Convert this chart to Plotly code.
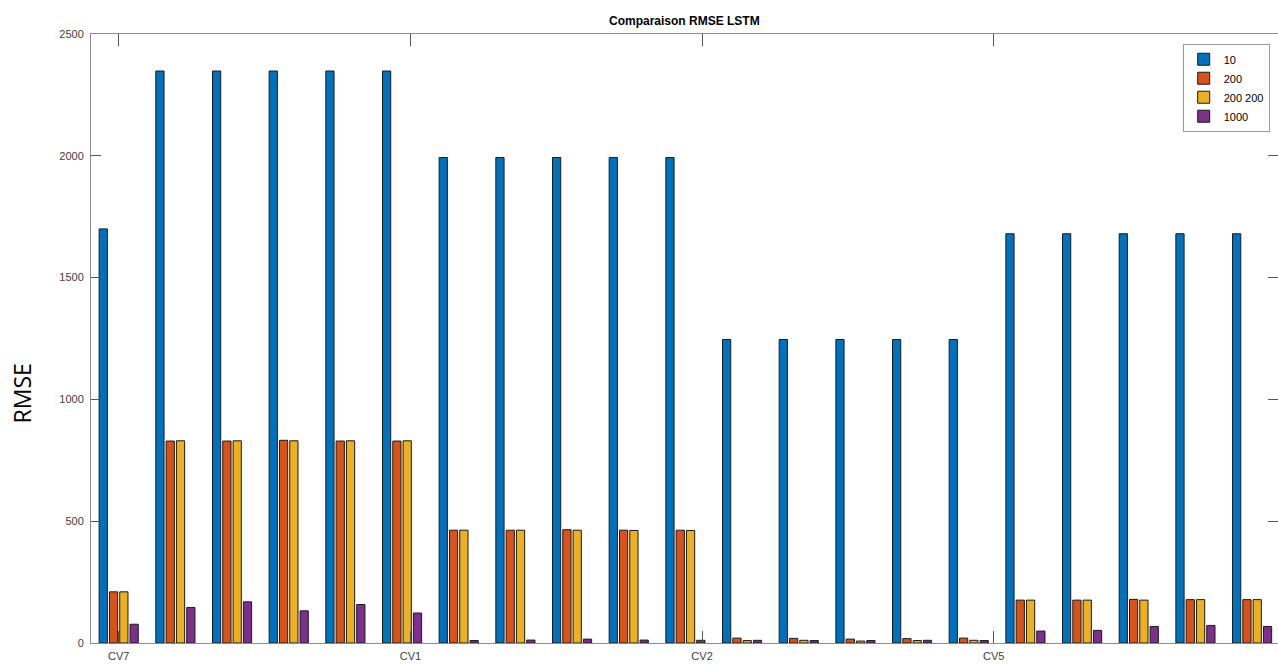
import plotly.graph_objects as go

# Grouped RMSE results, one bar per configuration in each of the 21 runs
runs = list(range(1, 22))
rmse_10 = [1700, 2348, 2348, 2348, 2348, 2348,
           1993, 1993, 1993, 1993, 1993,
           1246, 1246, 1246, 1246, 1246,
           1680, 1680, 1680, 1680, 1680]
rmse_200 = [210, 829, 829, 832, 829, 829,
            463, 463, 465, 463, 463,
            20, 19, 16, 18, 20,
            176, 176, 179, 178, 178]
rmse_200_200 = [210, 830, 830, 830, 830, 830,
                463, 463, 463, 462, 462,
                10, 11, 8, 10, 11,
                176, 176, 176, 178, 178]
rmse_1000 = [77, 146, 169, 132, 158, 123,
             10, 12, 16, 12, 11,
             11, 10, 10, 11, 10,
             49, 52, 68, 72, 68]

series_names = ["10", "200", "200 200", "1000"]
series_values = [rmse_10, rmse_200, rmse_200_200, rmse_1000]
series_colors = ["#0072BD", "#D95319", "#EDB120", "#7E2F8E"]

# Fold labels on the x axis
cv_tick_pos = [1, 6.147, 11.294, 16.441]
cv_tick_labels = ["CV7", "CV1", "CV2", "CV5"]

y_ticks = [0, 500, 1000, 1500, 2000, 2500]

FONT = "Liberation Sans, Arial, sans-serif"
AXIS_GRAY = "#8c8c8c"

fig = go.Figure()
for name, vals, color in zip(series_names, series_values, series_colors):
    fig.add_trace(go.Bar(
        x=runs, y=vals, name=name,
        marker=dict(color=color, line=dict(color="#1a1a1a", width=1)),
    ))

fig.update_layout(
    width=1278, height=664,
    margin=dict(l=91, r=0, t=34, b=21),
    paper_bgcolor="white", plot_bgcolor="white",
    barmode="group", bargap=0.273, bargroupgap=0.2,
    font=dict(family=FONT, size=11, color="#404040"),
    title=dict(text="<b>Comparaison RMSE LSTM</b>", x=0.5355, xanchor="center",
               y=0.968, yanchor="middle",
               font=dict(family=FONT, size=12, color="#000000")),
    showlegend=True,
    legend=dict(x=0.993, xanchor="right", y=0.984, yanchor="top",
                bgcolor="white", bordercolor="#999999", borderwidth=1,
                font=dict(family=FONT, size=11, color="#000000"),
                tracegroupgap=0, itemwidth=30),
    annotations=[dict(
        text="RMSE", textangle=-90,
        xref="paper", yref="paper", x=-0.0585, y=0.409,
        xanchor="center", yanchor="middle", showarrow=False,
        font=dict(family="Open Sans, sans-serif", size=23, color="#000000"),
    )],
)

fig.update_xaxes(
    range=[0.511, 21.457],
    tickmode="array", tickvals=cv_tick_pos, ticktext=cv_tick_labels,
    ticks="inside", ticklen=12, tickcolor="#555555", tickwidth=1,
    ticklabelstandoff=3,
    showline=True, linecolor=AXIS_GRAY, linewidth=1, mirror="ticks",
    showgrid=False, zeroline=False,
    tickfont=dict(family=FONT, size=11, color="#404040"),
)
fig.update_yaxes(
    range=[0, 2500],
    tickmode="array", tickvals=y_ticks,
    ticks="inside", ticklen=10, tickcolor="#555555", tickwidth=1,
    ticklabelstandoff=4,
    showline=True, linecolor=AXIS_GRAY, linewidth=1, mirror="ticks",
    showgrid=False, zeroline=False,
    tickfont=dict(family=FONT, size=11, color="#404040"),
)

fig.write_html("out.html")
